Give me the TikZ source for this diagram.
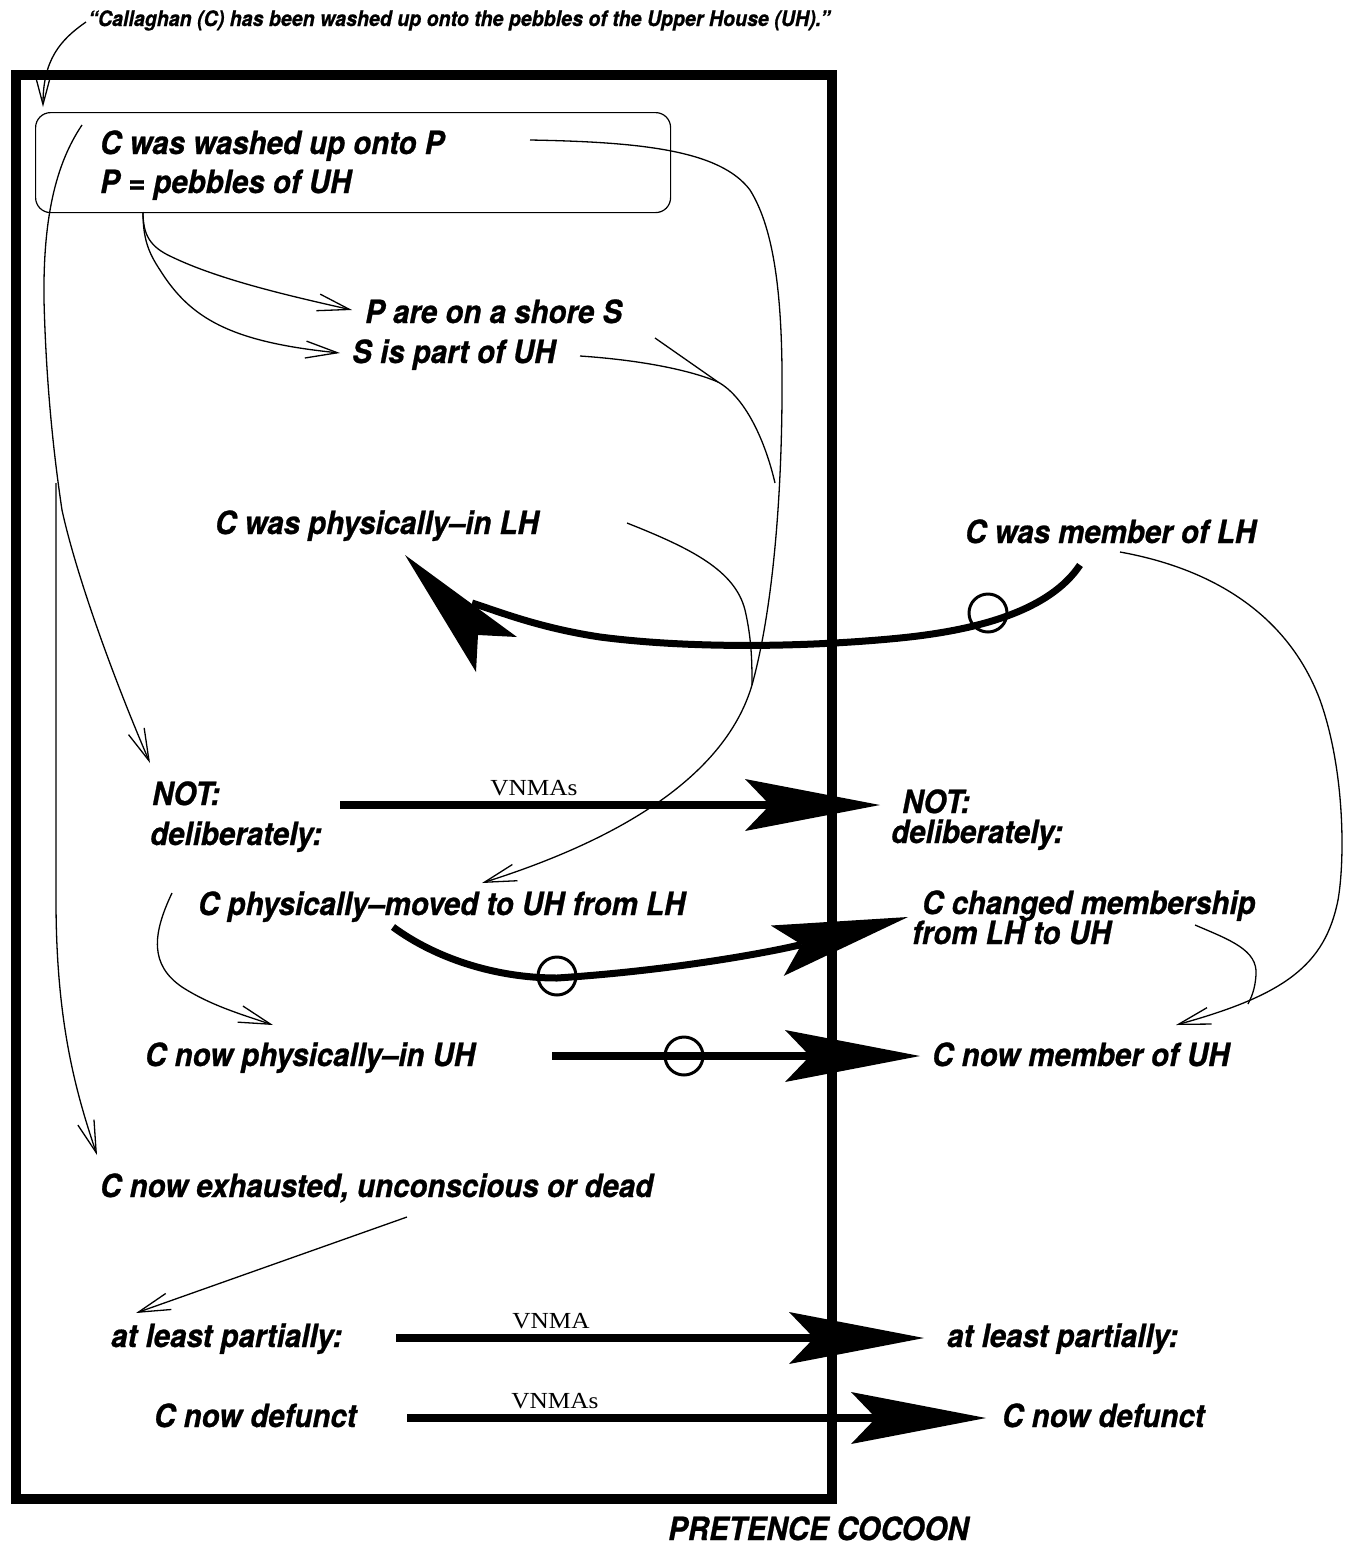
\documentclass[tikz,border=0pt]{standalone}
\usepackage{fontspec}
\setmainfont{TeX Gyre Heros}[FakeStretch=0.92,BoldItalicFeatures={FakeBold=0.7}]
\newfontfamily\tagfont{Liberation Serif}[FakeStretch=1.1]
\usetikzlibrary{arrows.meta}

\begin{document}
\begin{tikzpicture}[x=1pt,y=-1pt,
  txt/.style={anchor=base west,inner sep=0pt,font=\fontsize{32}{36}\selectfont\bfseries\itshape},
  quotetxt/.style={anchor=base west,inner sep=0pt,font=\fontsize{21.3}{24}\selectfont\bfseries\itshape},
  tag/.style={anchor=base,inner sep=0pt,font=\fontsize{23}{26}\selectfont\tagfont},
  thinline/.style={line width=1.3pt},
  barb/.style={thinline,-{Straight Barb[length=32pt,width=17pt]}},
  heavy/.style={line width=8pt,-{Stealth[length=135pt,width=52pt,inset=25pt,line width=0pt]}},
  ring/.style={circle,draw,line width=3pt,minimum size=38pt,inner sep=0pt},
]
% canvas
\fill[white] (0,0) rectangle (1349,1551);
\useasboundingbox (0,0) rectangle (1349,1551);

% the pretence cocoon frame and the premise box
\node[draw,line width=10pt,minimum width=816pt,minimum height=1424pt,
      anchor=north west,inner sep=0pt] (cocoon) at (11,70) {};
\node[draw,rounded corners=15pt,line width=1.2pt,minimum width=635pt,
      minimum height=100pt,anchor=north west,inner sep=0pt] (box) at (35,112) {};

% texts
\node[quotetxt] (quote) at (88,26) {``Callaghan (C) has been washed up onto the pebbles of the Upper House (UH).''};
\node[txt] (washed) at (100,154) {C was washed up onto P};
\node[txt] (pebbles) at (100,193) {P = pebbles of UH};
\node[txt] (shore) at (365,323) {P are on a shore S};
\node[txt] (part) at (352,363) {S is part of UH};
\node[txt] (physin) at (215,534) {C was physically--in LH};
\node[txt] (memLH) at (965,543) {C was member of LH};
\node[txt] (notL) at (152,805) {NOT:};
\node[txt] (delibL) at (150,845) {deliberately:};
\node[txt] (notR) at (902,813) {NOT:};
\node[txt] (delibR) at (891,843) {deliberately:};
\node[txt] (moved) at (198,915) {C physically--moved to UH from LH};
\node[txt] (changed) at (922,914) {C changed membership};
\node[txt] (fromto) at (912,944) {from LH to UH};
\node[txt] (nowin) at (145,1066) {C now physically--in UH};
\node[txt] (nowmem) at (932,1066) {C now member of UH};
\node[txt] (exh) at (100,1197) {C now exhausted, unconscious or dead};
\node[txt] (partL) at (111,1347) {at least partially:};
\node[txt] (partR) at (947,1347) {at least partially:};
\node[txt] (defL) at (154,1427) {C now defunct};
\node[txt] (defR) at (1002,1427) {C now defunct};
\node[txt] (cocoonlabel) at (668,1540) {PRETENCE COCOON};

% connector end points
\coordinate (q0) at (86,22);    \coordinate (q1) at (43,107);
\coordinate (w0) at (82,125);   \coordinate (w1) at (150,763);
\coordinate (v0) at (56,483);   \coordinate (v1) at (97,1155);
\coordinate (b0) at (143,212);  \coordinate (sh) at (352,310);
\coordinate (pt) at (340,353);
\coordinate (c0) at (530,140);  \coordinate (c1) at (482,883);
\coordinate (jn) at (752,685);
\coordinate (d0) at (580,356);  \coordinate (d1) at (655,338);
\coordinate (dj) at (718,382);  \coordinate (d2) at (775,483);
\coordinate (e0) at (627,523);
\coordinate (f0) at (1120,552); \coordinate (f1) at (1176,1025);
\coordinate (fj) at (1248,1004);
\coordinate (g0) at (1195,925);
\coordinate (h0) at (172,893);  \coordinate (h1) at (273,1025);
\coordinate (i0) at (407,1217); \coordinate (i1) at (136,1313);
\coordinate (k0) at (340,805);  \coordinate (k1) at (880,805);
\coordinate (m0) at (393,927);  \coordinate (m1) at (908,917);
\coordinate (n0) at (552,1056); \coordinate (n1) at (920,1056);
\coordinate (p0) at (396,1338); \coordinate (p1) at (924,1338);
\coordinate (r0) at (407,1418); \coordinate (r1) at (986,1418);
\coordinate (u0) at (1080,565); \coordinate (u1) at (472,603);

% thin inference links
\draw[barb] (q0) .. controls (60,40) and (43,60) .. (q1);
\draw[barb] (w0) .. controls (55,165) and (43,220) .. (44,300)
  .. controls (46,380) and (53,450) .. (62,510)
  .. controls (75,570) and (110,670) .. (w1);
\draw[barb] (v0) -- (56,900) .. controls (56,1020) and (75,1090) .. (v1);
\draw[barb] (b0) .. controls (143,235) and (150,247) .. (172,257)
  .. controls (220,280) and (290,296) .. (sh);
\draw[barb] (b0) .. controls (143,238) and (148,252) .. (160,270)
  .. controls (190,318) and (230,342) .. (pt);
\draw[barb] (c0) .. controls (640,142) and (720,150) .. (750,190)
  .. controls (775,230) and (783,300) .. (782,400)
  .. controls (781,520) and (770,620) .. (jn)
  .. controls (730,760) and (650,830) .. (c1);
\draw[thinline] (d1) -- (dj);
\draw[thinline] (d0) .. controls (640,360) and (690,370) .. (dj)
  .. controls (745,397) and (765,440) .. (d2);
\draw[thinline] (e0) .. controls (690,548) and (735,570) .. (745,610)
  .. controls (752,640) and (752,665) .. (jn);
\draw[barb] (f0) .. controls (1220,570) and (1290,620) .. (1320,700)
  .. controls (1345,770) and (1345,860) .. (1338,900)
  .. controls (1325,965) and (1285,995) .. (f1);
\draw[thinline] (g0) .. controls (1230,940) and (1258,950) .. (1256,975)
  .. controls (1255,990) and (1251,998) .. (fj);
\draw[barb] (h0) .. controls (152,935) and (150,965) .. (182,987)
  .. controls (210,1005) and (240,1014) .. (h1);
\draw[barb] (i0) -- (i1);

% heavy links across the cocoon
\draw[heavy] (k0) -- (k1);
\node[tag] (tagA) at (534,795) {VNMAs};

\draw[heavy,line width=7pt] (m0) .. controls (435,958) and (495,978) .. (557,978)
  .. controls (680,970) and (780,950) .. (m1);
\node[ring] (ringM) at (557,976) {};

\draw[heavy] (n0) -- (n1);
\node[ring] (ringN) at (684,1056) {};

\draw[heavy] (p0) -- (p1);
\node[tag] (tagB) at (551,1328) {VNMA};

\draw[heavy] (r0) -- (r1);
\node[tag] (tagC) at (555,1408) {VNMAs};

\draw[line width=7pt] (u0) .. controls (1050,610) and (980,630) .. (900,638)
  .. controls (820,646) and (700,650) .. (600,637)
  .. controls (540,628) and (500,612) .. (u1);
\fill (405,555) -- (517,637) -- (478,635) -- (476,672) -- cycle;
\node[ring] (ringU) at (988,613) {};
\end{tikzpicture}
\end{document}
